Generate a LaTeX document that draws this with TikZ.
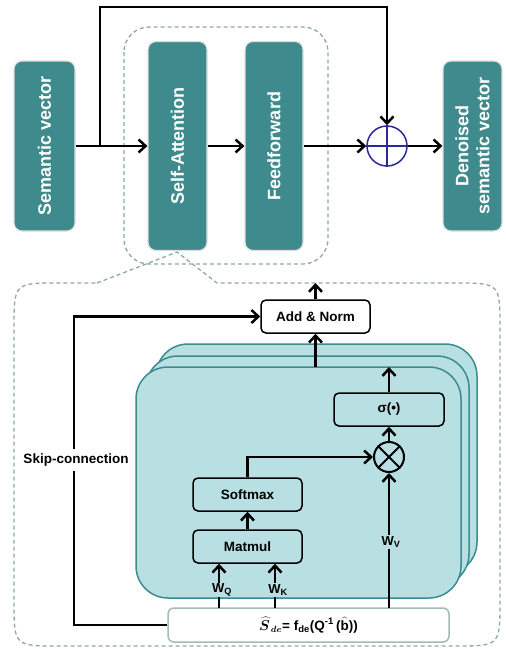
\documentclass[tikz,border=0pt]{standalone}
\usepackage{fontspec}
\setmainfont{Liberation Sans}
\usetikzlibrary{arrows.meta}

\definecolor{tealdark}{HTML}{3E8A8D}
\definecolor{teallight}{HTML}{B8DFE2}
\definecolor{tealline}{HTML}{3A8C91}
\definecolor{dashgray}{HTML}{8EA7A9}
\definecolor{plusblue}{HTML}{2A2A96}

\begin{document}
\begin{tikzpicture}[x=1pt,y=-1pt,
  tealbox/.style={fill=tealdark, draw=gray!25, line width=1.2pt, rounded corners=8pt,
    text=white, font=\fontsize{18}{21}\selectfont\bfseries, rotate=90, align=center, inner sep=0pt},
  layer/.style={fill=teallight, draw=tealline, line width=1.5pt, rounded corners=32pt},
  opbox/.style={draw=black, line width=1.5pt, rounded corners=5pt, minimum width=109pt,
    minimum height=33pt, font=\fontsize{13.5}{16}\selectfont\bfseries, inner sep=0pt},
  wlabel/.style={fill=teallight, inner sep=1pt, font=\fontsize{13}{15}\selectfont\bfseries},
  arr/.style={line width=2.5pt, -{Straight Barb[length=7pt,width=13pt]}},
  callout/.style={draw=dashgray, line width=1.3pt, dash pattern=on 4pt off 3pt}]

	\useasboundingbox (0,0) rectangle (506,649);

	% upper part
	\draw[callout, rounded corners=25pt] (124,27) rectangle (328,264);

	\node[tealbox, minimum width=170pt, minimum height=61pt] (sem) at (44.5,146) {Semantic vector};
	\node[tealbox, minimum width=209pt, minimum height=59pt] (sa) at (177.5,146) {Self-Attention};
	\node[tealbox, minimum width=209pt, minimum height=58pt] (ff) at (274,146) {Feedforward};
	\node[tealbox, minimum width=170pt, minimum height=59pt] (den) at (472.5,146) {Denoised\\semantic vector};
	\node[circle, draw=plusblue, line width=1.5pt, minimum size=40pt, inner sep=0pt] (plus) at (387,146) {};
	\draw[plusblue, line width=1.2pt] (plus.north) -- (plus.south) (plus.west) -- (plus.east);

	\coordinate (br) at (100,146);
	\coordinate (top) at (100,7);

	\draw[arr] (sem.south) -- (sa.north);
	\draw[arr] (sa.south) -- (ff.north);
	\draw[arr] (ff.south) -- (plus.west);
	\draw[arr] (plus.east) -- (den.north);
	\draw[arr] (br) -- (top) -| (plus.north);

	% lower part
	\draw[callout] (97,283) -- (177,252) -- (217,283) -- (455,283) .. controls (500,283) .. (500,328)
		-- (500,601) .. controls (500,646) .. (455,646) -- (59,646) .. controls (14,646) .. (14,601)
		-- (14,328) .. controls (14,283) .. (59,283) -- cycle;

	\draw[layer] (156,344) rectangle (477,574);
	\draw[layer] (146,356) rectangle (469,586);
	\draw[layer] (136,367) rectangle (461,598);

	\node[opbox, fill=white] (add) at (315.5,316.5) {Add \& Norm};
	\node[opbox, minimum width=110pt] (sig) at (389,409.5) {σ(•)};
	\node[opbox] (soft) at (247.5,494.5) {Softmax};
	\node[opbox] (mat) at (247.5,546.5) {Matmul};
	\node[circle, draw=black, line width=2pt, minimum size=30pt, inner sep=0pt] (ot) at (389,457) {};
	\draw[line width=2pt] (ot.north west) -- (ot.south east) (ot.north east) -- (ot.south west);

	\node[draw=dashgray!80, fill=white, line width=1.5pt, rounded corners=6pt, minimum width=281pt,
		minimum height=34pt, inner sep=0pt, font=\fontsize{13.5}{16}\selectfont\bfseries\boldmath] (sbox) at (308.5,625)
		{$\widehat{S}_{\,de}$= f\textsubscript{de}(Q\textsuperscript{-1}\,($\widehat{\mathrm{b}}$))};

	\coordinate (ftop) at (315.5,367);
	\coordinate (addout) at (315.5,283);
	\coordinate (sigout) at (389,367);
	\coordinate (q) at (219,608);
	\coordinate (k) at (275,608);
	\coordinate (v) at (389,608);
	\coordinate (skt) at (74,316.5);

	\draw[arr] (ftop) -- (add.south);
	\draw[arr] (add.north) -- (addout);
	\draw[arr] (sig.north) -- (sigout);
	\draw[arr] (ot.north) -- (sig.south);
	\draw[arr] (soft.north) |- (ot.west);
	\draw[arr] (mat.north) -- (soft.south);
	\draw[arr] (q) -- (q |- mat.south);
	\draw[arr] (k) -- (k |- mat.south);
	\draw[arr] (v) -- (ot.south);
	\draw[arr] (sbox.west) -| (skt) -- (add.west);

	\node[wlabel] (wq) at (222,590) {W\textsubscript{Q}};
	\node[wlabel] (wk) at (278,590) {W\textsubscript{K}};
	\node[wlabel] (wv) at (391,542) {W\textsubscript{V}};
	\node[fill=white, inner sep=5pt, font=\fontsize{13.5}{16}\selectfont\bfseries] (skip) at (76,460) {Skip-connection};

\end{tikzpicture}
\end{document}
